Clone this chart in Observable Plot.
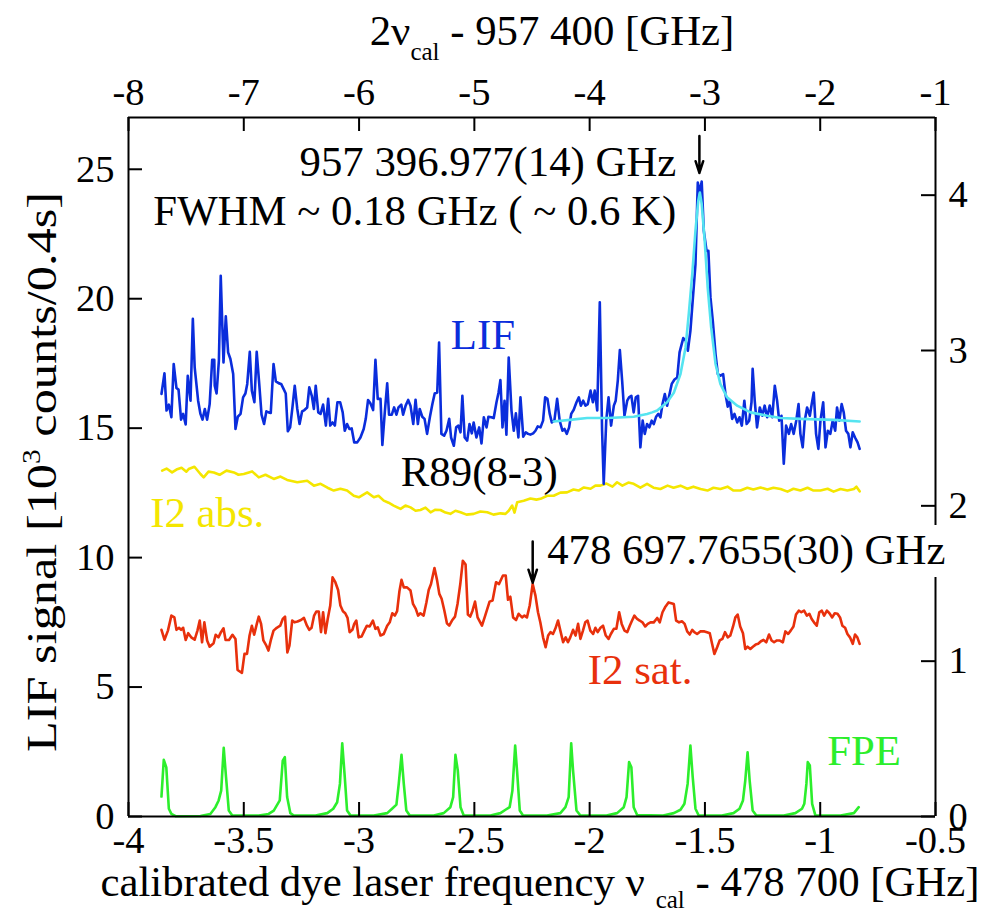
<!DOCTYPE html>
<html><head><meta charset="utf-8">
<script src="https://cdn.jsdelivr.net/npm/d3@7"></script>
<script src="https://cdn.jsdelivr.net/npm/@observablehq/plot@0.6"></script>
<style>html,body{margin:0;padding:0;background:#fff} svg{display:block}</style>
</head><body><div id="chart"></div>
<script>
// ---------- data (x: nu_cal - 478 700 GHz, y: LIF signal, 10^3 counts/0.4 s) ----------
const lif = [
[-3.857,16.32],[-3.844,17.12],[-3.835,15.68],[-3.825,15.91],[-3.814,15.42],[-3.804,17.48],[-3.792,16.55],[-3.783,16.49],[-3.772,15.33],[-3.763,15.55],[-3.752,15.14],[-3.743,17.02],[-3.731,16.06],[-3.721,19.22],[-3.713,17.35],[-3.698,16.06],[-3.688,15.55],[-3.679,15.33],[-3.669,15.74],[-3.659,15.33],[-3.648,15.93],[-3.637,17.64],[-3.628,17.64],[-3.626,16.64],[-3.618,16.34],[-3.608,17.61],[-3.600,20.89],[-3.588,17.54],[-3.578,19.32],[-3.568,17.93],[-3.558,17.67],[-3.546,17.09],[-3.536,14.97],[-3.526,15.44],[-3.514,15.55],[-3.503,16.19],[-3.493,16.34],[-3.485,16.71],[-3.474,17.95],[-3.465,16.45],[-3.454,16.00],[-3.444,17.95],[-3.433,16.71],[-3.423,15.52],[-3.412,15.16],[-3.402,15.65],[-3.392,15.61],[-3.383,15.59],[-3.371,17.48],[-3.361,16.81],[-3.347,16.73],[-3.338,16.71],[-3.327,16.51],[-3.318,16.34],[-3.309,14.88],[-3.299,15.03],[-3.289,15.80],[-3.279,16.64],[-3.268,15.74],[-3.258,15.16],[-3.247,15.65],[-3.237,15.70],[-3.225,15.80],[-3.216,16.58],[-3.205,16.25],[-3.196,15.74],[-3.188,16.64],[-3.177,15.61],[-3.167,15.55],[-3.156,15.91],[-3.144,15.10],[-3.134,16.13],[-3.125,15.10],[-3.115,15.22],[-3.105,15.10],[-3.094,16.00],[-3.082,16.00],[-3.071,15.61],[-3.062,14.90],[-3.052,15.16],[-3.042,14.97],[-3.032,14.99],[-3.021,14.45],[-3.008,14.45],[-2.994,14.64],[-2.980,14.97],[-2.971,15.36],[-2.961,16.09],[-2.951,15.96],[-2.939,15.70],[-2.929,17.64],[-2.919,16.13],[-2.907,16.13],[-2.899,14.35],[-2.889,15.55],[-2.878,16.73],[-2.870,15.52],[-2.858,15.52],[-2.848,15.80],[-2.838,15.52],[-2.829,15.80],[-2.817,15.91],[-2.809,15.52],[-2.798,15.87],[-2.787,16.09],[-2.777,15.87],[-2.765,15.16],[-2.755,16.10],[-2.745,15.16],[-2.737,15.74],[-2.726,15.44],[-2.716,15.36],[-2.705,14.78],[-2.693,15.42],[-2.682,15.93],[-2.672,16.34],[-2.661,16.38],[-2.653,18.31],[-2.643,14.78],[-2.631,14.71],[-2.621,14.90],[-2.609,15.36],[-2.601,14.64],[-2.589,14.32],[-2.579,15.03],[-2.569,15.10],[-2.560,14.84],[-2.552,16.25],[-2.542,14.64],[-2.531,14.52],[-2.521,15.16],[-2.511,14.80],[-2.503,15.22],[-2.491,14.64],[-2.479,15.03],[-2.469,14.41],[-2.459,15.42],[-2.447,15.03],[-2.439,15.44],[-2.427,15.42],[-2.416,15.39],[-2.404,16.00],[-2.395,16.38],[-2.387,16.86],[-2.378,15.03],[-2.369,16.06],[-2.361,14.75],[-2.351,17.73],[-2.339,15.68],[-2.329,14.90],[-2.320,15.57],[-2.309,14.64],[-2.300,16.19],[-2.288,14.67],[-2.277,14.84],[-2.267,14.78],[-2.257,14.75],[-2.245,14.80],[-2.235,14.90],[-2.225,15.07],[-2.213,15.03],[-2.202,15.29],[-2.193,16.19],[-2.183,16.13],[-2.173,15.55],[-2.164,15.22],[-2.153,15.29],[-2.141,16.13],[-2.130,15.29],[-2.118,14.90],[-2.109,14.97],[-2.099,14.78],[-2.089,15.03],[-2.080,15.55],[-2.069,15.71],[-2.057,16.00],[-2.047,16.19],[-2.038,15.87],[-2.028,16.06],[-2.018,15.87],[-2.008,15.93],[-1.996,16.45],[-1.986,16.00],[-1.978,16.45],[-1.967,15.68],[-1.956,19.86],[-1.946,14.90],[-1.939,12.85],[-1.928,15.29],[-1.918,16.19],[-1.907,15.10],[-1.895,15.87],[-1.887,16.06],[-1.878,16.83],[-1.869,18.02],[-1.859,16.83],[-1.849,15.48],[-1.837,16.06],[-1.829,16.19],[-1.819,16.25],[-1.809,15.61],[-1.800,16.19],[-1.790,16.25],[-1.780,14.26],[-1.770,15.29],[-1.761,14.78],[-1.751,15.16],[-1.741,15.03],[-1.731,15.29],[-1.722,15.16],[-1.712,15.44],[-1.702,15.55],[-1.693,15.42],[-1.684,15.93],[-1.674,16.32],[-1.664,15.87],[-1.655,16.25],[-1.644,16.71],[-1.632,16.88],[-1.620,16.96],[-1.610,17.93],[-1.594,18.48],[-1.583,18.38],[-1.574,17.99],[-1.563,18.76],[-1.541,21.34],[-1.531,24.49],[-1.522,24.10],[-1.514,24.53],[-1.505,22.63],[-1.493,21.85],[-1.485,21.85],[-1.476,20.05],[-1.466,19.15],[-1.454,17.86],[-1.444,17.09],[-1.433,17.03],[-1.421,17.09],[-1.411,16.32],[-1.401,15.83],[-1.392,16.06],[-1.382,15.36],[-1.372,15.55],[-1.360,15.22],[-1.350,15.42],[-1.340,15.10],[-1.329,16.06],[-1.319,15.16],[-1.308,15.29],[-1.298,16.00],[-1.293,17.29],[-1.284,16.06],[-1.274,15.03],[-1.262,15.80],[-1.251,15.48],[-1.241,15.87],[-1.230,15.42],[-1.219,15.87],[-1.208,15.42],[-1.197,16.64],[-1.187,16.06],[-1.178,15.29],[-1.168,15.48],[-1.158,13.63],[-1.148,15.10],[-1.136,14.78],[-1.126,15.16],[-1.115,14.78],[-1.104,15.29],[-1.094,15.93],[-1.086,14.78],[-1.076,14.26],[-1.067,15.29],[-1.057,15.80],[-1.045,15.48],[-1.037,15.93],[-1.028,16.38],[-1.018,14.78],[-1.008,14.20],[-0.999,15.29],[-0.987,16.00],[-0.977,14.26],[-0.967,14.90],[-0.956,14.78],[-0.946,15.29],[-0.935,14.90],[-0.927,15.80],[-0.917,15.29],[-0.907,15.93],[-0.898,15.61],[-0.888,14.90],[-0.878,14.78],[-0.869,14.26],[-0.859,14.84],[-0.849,14.64],[-0.838,14.45],[-0.829,14.20]
];
const lifFit = [
[-2.156,15.26],[-2.076,15.33],[-2.011,15.39],[-1.924,15.39],[-1.852,15.42],[-1.809,15.44],[-1.751,15.55],[-1.729,15.61],[-1.707,15.68],[-1.664,16.00],[-1.635,16.37],[-1.606,17.09],[-1.584,18.12],[-1.570,19.41],[-1.555,20.95],[-1.541,22.63],[-1.529,23.78],[-1.522,24.10],[-1.514,23.66],[-1.501,22.24],[-1.488,20.44],[-1.473,18.89],[-1.454,17.48],[-1.433,16.71],[-1.404,16.19],[-1.360,15.87],[-1.302,15.61],[-1.230,15.48],[-1.172,15.39],[-1.086,15.36],[-0.941,15.32],[-0.829,15.26]
];
const i2abs = [
[-3.854,13.36],[-3.835,13.44],[-3.811,13.29],[-3.792,13.40],[-3.770,13.47],[-3.749,13.32],[-3.739,13.42],[-3.714,13.51],[-3.688,13.23],[-3.674,13.10],[-3.653,13.32],[-3.630,13.29],[-3.605,13.20],[-3.575,13.36],[-3.543,13.29],[-3.523,13.20],[-3.500,13.23],[-3.464,13.33],[-3.435,13.10],[-3.406,13.20],[-3.370,13.04],[-3.341,13.13],[-3.312,13.00],[-3.268,12.91],[-3.225,12.97],[-3.196,12.78],[-3.167,12.85],[-3.137,12.70],[-3.110,12.59],[-3.081,12.66],[-3.052,12.59],[-3.023,12.39],[-3.001,12.33],[-2.965,12.52],[-2.936,12.33],[-2.916,12.39],[-2.893,12.20],[-2.872,12.12],[-2.850,12.01],[-2.820,11.88],[-2.799,12.01],[-2.777,11.94],[-2.755,11.81],[-2.734,11.84],[-2.712,11.93],[-2.690,11.75],[-2.669,11.85],[-2.647,11.84],[-2.625,11.74],[-2.604,11.69],[-2.582,11.81],[-2.560,11.75],[-2.534,11.66],[-2.503,11.69],[-2.474,11.78],[-2.444,11.75],[-2.417,11.66],[-2.387,11.71],[-2.365,11.69],[-2.351,11.81],[-2.336,12.01],[-2.326,11.74],[-2.314,12.14],[-2.286,12.20],[-2.257,12.28],[-2.231,12.24],[-2.213,12.27],[-2.184,12.39],[-2.156,12.39],[-2.127,12.51],[-2.098,12.52],[-2.070,12.63],[-2.048,12.59],[-2.025,12.71],[-1.996,12.66],[-1.975,12.78],[-1.953,12.78],[-1.927,12.86],[-1.901,12.74],[-1.881,12.91],[-1.858,12.78],[-1.832,12.90],[-1.809,12.85],[-1.780,12.70],[-1.751,12.85],[-1.723,12.70],[-1.693,12.65],[-1.662,12.78],[-1.636,12.70],[-1.606,12.78],[-1.576,12.66],[-1.550,12.74],[-1.519,12.65],[-1.489,12.59],[-1.463,12.70],[-1.433,12.65],[-1.402,12.74],[-1.376,12.59],[-1.346,12.59],[-1.316,12.70],[-1.290,12.63],[-1.259,12.71],[-1.229,12.63],[-1.203,12.70],[-1.172,12.65],[-1.142,12.55],[-1.116,12.66],[-1.086,12.59],[-1.055,12.70],[-1.029,12.59],[-0.999,12.59],[-0.968,12.66],[-0.942,12.55],[-0.912,12.65],[-0.882,12.59],[-0.854,12.65],[-0.843,12.74],[-0.829,12.56]
];
const i2sat = [
[-3.857,7.21],[-3.844,6.83],[-3.829,7.18],[-3.814,7.76],[-3.801,7.69],[-3.792,7.21],[-3.781,7.29],[-3.772,7.21],[-3.763,7.29],[-3.752,6.82],[-3.741,7.08],[-3.728,6.92],[-3.713,6.83],[-3.701,7.18],[-3.691,7.57],[-3.681,6.73],[-3.671,7.50],[-3.659,6.80],[-3.648,6.56],[-3.631,6.69],[-3.622,7.02],[-3.610,6.92],[-3.599,7.12],[-3.588,7.27],[-3.579,6.82],[-3.564,6.82],[-3.549,7.02],[-3.536,6.86],[-3.527,5.66],[-3.508,5.55],[-3.497,6.28],[-3.486,6.28],[-3.475,6.99],[-3.465,7.37],[-3.455,7.02],[-3.443,7.46],[-3.435,7.72],[-3.425,7.44],[-3.415,6.80],[-3.402,6.60],[-3.393,6.41],[-3.383,6.80],[-3.371,7.18],[-3.357,7.29],[-3.342,7.37],[-3.331,7.63],[-3.321,7.72],[-3.311,6.34],[-3.302,6.60],[-3.290,7.57],[-3.280,7.50],[-3.267,7.53],[-3.252,7.59],[-3.239,7.67],[-3.226,7.37],[-3.216,7.21],[-3.206,7.29],[-3.195,7.76],[-3.185,7.92],[-3.175,7.92],[-3.165,7.12],[-3.156,7.89],[-3.146,7.08],[-3.136,7.63],[-3.125,8.15],[-3.115,9.24],[-3.103,9.05],[-3.091,8.75],[-3.081,8.15],[-3.070,7.93],[-3.060,7.85],[-3.050,7.67],[-3.041,7.12],[-3.029,7.21],[-3.021,7.44],[-3.012,7.57],[-3.002,6.92],[-2.989,6.95],[-2.977,7.18],[-2.966,7.37],[-2.954,7.34],[-2.940,7.57],[-2.929,7.25],[-2.919,7.31],[-2.907,6.99],[-2.893,7.05],[-2.878,7.37],[-2.867,7.50],[-2.856,7.85],[-2.845,7.76],[-2.835,7.93],[-2.825,8.70],[-2.816,9.14],[-2.806,8.85],[-2.792,8.85],[-2.777,8.73],[-2.766,8.21],[-2.754,8.02],[-2.744,7.76],[-2.734,7.85],[-2.720,7.76],[-2.708,8.27],[-2.698,8.75],[-2.688,8.98],[-2.673,9.60],[-2.662,9.14],[-2.652,8.60],[-2.642,8.41],[-2.630,7.95],[-2.619,7.46],[-2.609,7.37],[-2.597,7.57],[-2.584,7.72],[-2.573,8.21],[-2.561,8.98],[-2.550,9.88],[-2.538,9.73],[-2.528,7.80],[-2.518,7.72],[-2.508,7.95],[-2.497,8.30],[-2.486,7.69],[-2.467,7.37],[-2.453,7.76],[-2.434,8.30],[-2.421,8.34],[-2.406,9.05],[-2.393,8.98],[-2.376,9.31],[-2.364,9.31],[-2.354,8.37],[-2.344,8.49],[-2.332,7.69],[-2.319,7.59],[-2.308,7.83],[-2.293,7.69],[-2.283,7.76],[-2.272,7.69],[-2.260,8.15],[-2.247,8.98],[-2.235,8.53],[-2.224,7.89],[-2.214,7.50],[-2.202,6.92],[-2.191,6.54],[-2.180,6.99],[-2.170,7.12],[-2.159,7.05],[-2.149,7.25],[-2.137,7.57],[-2.127,7.18],[-2.115,6.73],[-2.104,6.92],[-2.094,6.73],[-2.084,6.92],[-2.072,7.21],[-2.061,6.99],[-2.050,7.44],[-2.040,6.86],[-2.029,7.18],[-2.019,7.50],[-2.009,7.57],[-1.997,7.18],[-1.985,7.05],[-1.975,7.29],[-1.965,7.12],[-1.953,7.29],[-1.942,7.37],[-1.930,6.99],[-1.918,6.86],[-1.908,7.05],[-1.895,7.25],[-1.884,7.25],[-1.872,7.89],[-1.861,7.44],[-1.849,7.18],[-1.837,7.12],[-1.826,7.37],[-1.816,7.57],[-1.806,7.76],[-1.794,7.63],[-1.783,7.57],[-1.771,7.50],[-1.759,7.34],[-1.748,7.44],[-1.736,7.50],[-1.722,7.50],[-1.707,7.67],[-1.696,7.50],[-1.684,7.89],[-1.673,8.08],[-1.658,8.27],[-1.646,8.24],[-1.635,8.21],[-1.625,7.57],[-1.612,7.50],[-1.599,7.54],[-1.588,7.44],[-1.577,7.15],[-1.566,7.03],[-1.555,7.21],[-1.546,7.12],[-1.534,7.05],[-1.520,7.15],[-1.502,7.15],[-1.491,7.12],[-1.479,7.08],[-1.469,6.67],[-1.459,6.28],[-1.447,6.54],[-1.436,6.80],[-1.424,6.86],[-1.413,7.12],[-1.401,6.92],[-1.390,6.99],[-1.378,7.34],[-1.368,7.69],[-1.358,7.80],[-1.347,7.34],[-1.335,7.08],[-1.325,6.47],[-1.315,6.56],[-1.303,6.47],[-1.292,6.56],[-1.280,6.64],[-1.269,6.67],[-1.257,6.77],[-1.246,6.82],[-1.234,6.73],[-1.222,7.03],[-1.211,6.80],[-1.200,6.73],[-1.188,6.80],[-1.177,6.80],[-1.162,6.73],[-1.151,7.15],[-1.139,7.05],[-1.128,7.18],[-1.116,7.34],[-1.105,7.80],[-1.093,7.95],[-1.082,7.89],[-1.070,7.95],[-1.058,7.76],[-1.047,7.83],[-1.037,7.63],[-1.027,7.50],[-1.015,7.37],[-1.004,7.89],[-0.993,7.95],[-0.983,7.76],[-0.971,7.95],[-0.960,7.85],[-0.948,7.69],[-0.937,7.85],[-0.925,7.83],[-0.914,7.69],[-0.904,7.37],[-0.892,7.29],[-0.882,7.05],[-0.871,6.92],[-0.859,6.67],[-0.849,7.03],[-0.839,6.92],[-0.829,6.67]
];
const fpe = [
[-3.857,0.77],[-3.847,2.19],[-3.836,1.90],[-3.825,0.30],[-3.814,0.10],[-3.796,0.01],
[-3.688,0.02],[-3.645,0.10],[-3.623,0.36],[-3.609,0.62],[-3.598,1.00],[-3.587,2.65],[-3.577,1.52],[-3.565,0.23],[-3.550,0.04],
[-3.435,0.04],[-3.392,0.10],[-3.370,0.23],[-3.344,0.62],[-3.331,2.16],[-3.322,2.29],[-3.312,0.75],[-3.298,0.13],[-3.283,0.04],
[-3.189,0.04],[-3.138,0.13],[-3.112,0.30],[-3.095,0.55],[-3.083,1.26],[-3.073,2.83],[-3.062,1.52],[-3.052,0.23],[-3.037,0.04],
[-2.936,0.04],[-2.878,0.13],[-2.857,0.30],[-2.838,0.46],[-2.828,1.26],[-2.816,2.38],[-2.806,1.26],[-2.795,0.23],[-2.780,0.04],
[-2.676,0.04],[-2.633,0.13],[-2.604,0.36],[-2.592,0.75],[-2.582,2.38],[-2.572,1.78],[-2.560,0.36],[-2.546,0.04],
[-2.430,0.04],[-2.387,0.13],[-2.365,0.26],[-2.347,0.36],[-2.335,1.00],[-2.323,2.74],[-2.315,1.78],[-2.303,0.23],[-2.289,0.04],
[-2.185,0.04],[-2.127,0.13],[-2.105,0.36],[-2.091,0.75],[-2.080,2.83],[-2.072,1.78],[-2.057,0.23],[-2.040,0.04],
[-1.927,0.04],[-1.881,0.13],[-1.852,0.36],[-1.840,0.75],[-1.829,2.10],[-1.819,1.90],[-1.809,0.36],[-1.794,0.06],
[-1.681,0.04],[-1.635,0.13],[-1.606,0.26],[-1.589,0.49],[-1.575,1.26],[-1.563,2.74],[-1.553,1.52],[-1.541,0.30],[-1.527,0.04],
[-1.426,0.04],[-1.376,0.13],[-1.350,0.30],[-1.335,0.62],[-1.325,1.39],[-1.315,2.48],[-1.306,1.39],[-1.293,0.23],[-1.277,0.04],
[-1.158,0.04],[-1.108,0.13],[-1.079,0.30],[-1.069,0.49],[-1.060,1.26],[-1.054,2.10],[-1.045,1.97],[-1.035,0.49],[-1.021,0.04],
[-0.912,0.04],[-0.854,0.13],[-0.833,0.36]
];
// axis ticks
const xTicks = [-4, -3.5, -3, -2.5, -2, -1.5, -1, -0.5];
const topTicks = [-8, -7, -6, -5, -4, -3, -2, -1];      // 2*nu_cal - 957 400
const yTicks = [0, 5, 10, 15, 20, 25];
const rightTicks = [0, 1, 2, 3, 4];
const rightFactor = 6;                                     // left units per right-axis unit
// annotations (data coordinates)
const blackNotes = [
  {label: "957 396.977(14) GHz", x: -1.624, y: 24.75, anchor: "end"},
  {label: "FWHM ~ 0.18 GHz ( ~ 0.6 K)", x: -1.624, y: 22.86, anchor: "end"},
  {label: "R89(8-3)", x: -2.819, y: 12.78, anchor: "start"},
  {label: "478 697.7655(30) GHz", x: -2.184, y: 9.76, anchor: "start"}
];
const arrows = [
  {x: -1.524, y1: 26.29, y2: 24.86},
  {x: -2.247, y1: 10.62, y2: 9.03}
];
const seriesLabels = [
  {label: "LIF", x: -2.602, y: 18.07, key: "lif"},
  {label: "I2 abs.", x: -3.906, y: 11.17, key: "abs"},
  {label: "I2 sat.", x: -2.008, y: 5.12, key: "sat"},
  {label: "FPE", x: -0.970, y: 1.97, key: "fpe"}
];

// ---------- font selection (first installed face from a serif-first list) ----------
const ctx = document.createElement("canvas").getContext("2d");
function installed(name) {
  const s = "mmmmmmmmmmlli 0123456789 WQgy";
  for (const base of ["monospace", "sans-serif"]) {
    ctx.font = `72px ${base}`; const a = ctx.measureText(s).width;
    ctx.font = `72px "${name}", ${base}`; const b = ctx.measureText(s).width;
    if (Math.abs(a - b) > 0.5) return true;
  }
  return false;
}
const candidates = ["Liberation Serif", "Tinos", "Times New Roman", "Nimbus Roman", "FreeSerif", "DejaVu Serif", "Noto Serif", "Liberation Sans", "Arimo", "Noto Sans"];
const FACE = candidates.find(installed) || "sans-serif";
const FONT = `"${FACE}", serif`;
// size the fonts so that a reference string has the reference width (377 px)
ctx.font = `100px ${FONT}`;
const AFS = Math.round(100 * 377 / ctx.measureText("957 396.977(14) GHz").width * 10) / 10;
const TFS = Math.round(AFS * 0.9 * 10) / 10;
const SUB = Math.round(AFS * 0.58);

// ---------- styling ----------
const C = {lif: "#0a2ddc", fit: "#55e4f0", abs: "#f4e600", sat: "#e8300c", fpe: "#2cee2c"};
const W = 984, H = 915, mL = 128, mR = 49, mT = 117, mB = 99;
const innerW = W - mL - mR, innerH = H - mT - mB;
const TICK = 14;
const px = d => d[0], py = d => d[1];

const chart = Plot.plot({
  width: W, height: H,
  marginLeft: mL, marginRight: mR, marginTop: mT, marginBottom: mB,
  x: {domain: [-4, -0.5], axis: null},
  y: {domain: [0, 27], axis: null},
  style: {fontFamily: FONT, background: "white", color: "black"},
  marks: [
    Plot.line(i2abs, {x: px, y: py, stroke: C.abs, strokeWidth: 2.6}),
    Plot.line(i2sat, {x: px, y: py, stroke: C.sat, strokeWidth: 2.6}),
    Plot.line(fpe, {x: px, y: py, stroke: C.fpe, strokeWidth: 2.6}),
    Plot.line(lif, {x: px, y: py, stroke: C.lif, strokeWidth: 2.6}),
    Plot.line(lifFit, {x: px, y: py, stroke: C.fit, strokeWidth: 2.6}),
    // frame
    Plot.ruleX([-4], {stroke: "black", strokeWidth: 2}),
    Plot.ruleY([0], {stroke: "black", strokeWidth: 2}),
    Plot.ruleY([27], {stroke: "black", strokeWidth: 2}),
    Plot.ruleX([-0.5], {stroke: "black", strokeWidth: 2, insetBottom: 291}),
    Plot.ruleX([-0.5], {stroke: "black", strokeWidth: 2, insetTop: 460}),
    // inward ticks
    Plot.ruleX(xTicks, {x: d => d, stroke: "black", strokeWidth: 2, insetTop: innerH - TICK}),
    Plot.ruleX(topTicks, {x: d => d / 2, stroke: "black", strokeWidth: 2, insetBottom: innerH - TICK}),
    Plot.ruleY(yTicks, {y: d => d, stroke: "black", strokeWidth: 2, insetRight: innerW - TICK}),
    Plot.ruleY(rightTicks, {y: d => d * rightFactor, stroke: "black", strokeWidth: 2, insetLeft: innerW - TICK}),
    // tick labels
    Plot.text(xTicks, {x: d => d, text: d => String(d), frameAnchor: "bottom", lineAnchor: "bottom", dy: 36, fontSize: TFS, fill: "black"}),
    Plot.text(topTicks, {x: d => d / 2, text: d => String(d), frameAnchor: "top", lineAnchor: "bottom", dy: -13, fontSize: TFS, fill: "black"}),
    Plot.text(yTicks, {y: d => d, text: d => String(d), frameAnchor: "left", textAnchor: "end", dx: -14, fontSize: TFS, fill: "black"}),
    Plot.text(rightTicks, {y: d => d * rightFactor, text: d => String(d), frameAnchor: "right", textAnchor: "start", dx: 13, fontSize: TFS, fill: "black"}),
    // annotations
    Plot.text(blackNotes.filter(d => d.anchor === "end"), {x: "x", y: "y", text: "label", textAnchor: "end", lineAnchor: "bottom", fontSize: AFS, fill: "black"}),
    Plot.text(blackNotes.filter(d => d.anchor === "start"), {x: "x", y: "y", text: "label", textAnchor: "start", lineAnchor: "bottom", fontSize: AFS, fill: "black"}),
    Plot.arrow(arrows, {x1: "x", x2: "x", y1: "y1", y2: "y2", stroke: "black", strokeWidth: 2.5, headLength: 16, headAngle: 36}),
    Plot.text(seriesLabels, {x: "x", y: "y", text: "label", textAnchor: "start", lineAnchor: "bottom", fontSize: AFS, fill: d => C[d.key]})
  ]
});
document.getElementById("chart").appendChild(chart);

// ---------- axis titles with sub/superscripts ----------
const svg = d3.select(chart);
function title(x, y, parts, transform, length) {
  const t = svg.append("text")
    .attr("x", x).attr("y", y)
    .attr("text-anchor", "middle")
    .style("font-family", FONT)
    .style("font-size", AFS + "px")
    .attr("fill", "black")
    .style("white-space", "pre");
  if (transform) t.attr("transform", transform);
  if (length) t.attr("textLength", length).attr("lengthAdjust", "spacingAndGlyphs");
  parts.forEach(p => {
    t.append("tspan").style("font-size", (p.fs || AFS) + "px").attr("dy", p.dy || 0).text(p.t);
  });
}
title(540, 896, [
  {t: "calibrated dye laser frequency \u03bd "},
  {t: "cal", fs: SUB, dy: 12},
  {t: " - 478 700 [GHz]", dy: -12}
]);
title(552, 45, [
  {t: "2\u03bd"},
  {t: "cal", fs: SUB, dy: 15},
  {t: " - 957 400 [GHz]", dy: -15}
]);
title(0, 0, [
  {t: "LIF signal [10"},
  {t: "3", fs: SUB, dy: -16},
  {t: " counts/0.4s]", dy: 16}
], "translate(56,472) rotate(-90)", 560);
</script>
</body></html>
